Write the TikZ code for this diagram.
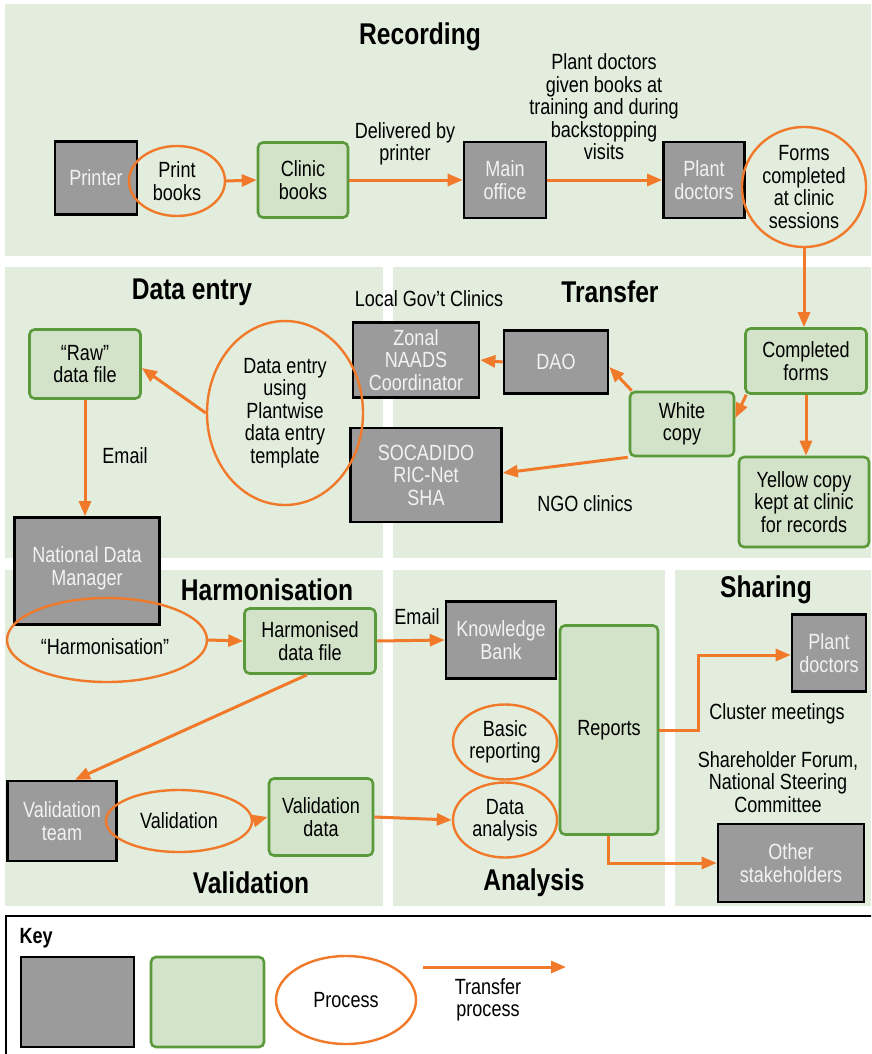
\documentclass[tikz,border=0pt]{standalone}
\usepackage{fontspec}
\setmainfont[FakeStretch=0.82]{Liberation Sans}
\usetikzlibrary{arrows.meta,shapes.geometric}
\definecolor{panelbg}{HTML}{E3EDDE}
\definecolor{boxgray}{HTML}{9B9B9B}
\definecolor{greenline}{HTML}{5A9A3A}
\definecolor{greenfill}{HTML}{D3E3CA}
\definecolor{orng}{HTML}{F07A2A}
\definecolor{boxtext}{HTML}{F2F2F2}
\tikzset{
  every node/.style={font=\fontsize{22}{22.5}\selectfont},
  panel/.style={fill=panelbg, draw=none},
  graybox/.style={rectangle, draw=black, line width=2.6pt, fill=boxgray, text=boxtext,
    align=center, inner sep=1pt},
  greenbox/.style={rectangle, draw=greenline, line width=2.6pt, fill=greenfill,
    rounded corners=5pt, align=center, inner sep=1pt},
  proc/.style={ellipse, draw=orng, line width=2.4pt, align=center, inner sep=0pt},
  flow/.style={draw=orng, line width=3pt, -{Triangle[length=15pt,width=12pt]}},
  title/.style={font=\fontsize{30}{32}\selectfont\bfseries},
  lbl/.style={align=center},
  sz/.style 2 args={minimum width=#1pt, minimum height=#2pt}
}
\begin{document}
\begin{tikzpicture}[x=1pt,y=-1pt]
\useasboundingbox (0,0) rectangle (871,1054);
\clip (0,0) rectangle (871,1054);

% background panels
\fill[panel] (5,4) rectangle (871,256);
\fill[panel] (5,267) rectangle (383,558);
\fill[panel] (393,267) rectangle (871,558);
\fill[panel] (5,570) rectangle (383,906);
\fill[panel] (393,570) rectangle (665,906);
\fill[panel] (675,570) rectangle (871,906);

% section titles
\node[title] (tRec) at (420,37) {Recording};
\node[title] (tEntry) at (192,292) {Data entry};
\node[title] (tTrans) at (610,292) {Transfer};
\node[title] (tHarm) at (267,590) {Harmonisation};
\node[title] (tShare) at (766,590) {Sharing};
\node[title] (tVal) at (251,883) {Validation};
\node[title] (tAna) at (534,883) {Analysis};

% Recording
\node[graybox, sz={82}{73}] (printer) at (96,178) {Printer};
\node[greenbox, sz={90}{75}] (clinic) at (303,180) {Clinic\\books};
\node[graybox, sz={82}{76}] (mainoff) at (505,180) {Main\\office};
\node[graybox, sz={81}{76}] (plantdoc) at (704,180) {Plant\\doctors};
\node[proc, sz={96}{70}] (printbooks) at (177,181) {Print\\books};
\node[proc, sz={124}{120}] (forms) at (804,187) {Forms\\completed\\at clinic\\sessions};

% Transfer
\node[greenbox, sz={121}{65}] (completed) at (806,361) {Completed\\forms};
\node[greenbox, sz={130}{90}] (yellow) at (804,502) {Yellow copy\\kept at clinic\\for records};
\node[greenbox, sz={104}{64}] (white) at (682,424) {White\\copy};
\node[graybox, sz={104}{63}] (dao) at (556,362) {DAO};
\node[graybox, sz={126}{75}] (zonal) at (416,360) {Zonal\\NAADS\\Coordinator};
\node[graybox, sz={151}{94}] (socadido) at (426,475) {SOCADIDO\\RIC-Net\\SHA};

% Data entry
\node[greenbox, sz={111}{69}] (raw) at (85,364) {“Raw”\\data file};
\node[graybox, sz={145}{107}, text depth=10pt] (ndm) at (87,571) {National Data\\Manager};
\node[proc, sz={156}{184}] (entry) at (285,413) {Data entry\\using\\Plantwise\\data entry\\template};

% Harmonisation and validation
\node[greenbox, sz={131}{65}] (hdf) at (310,641) {Harmonised\\data file};
\node[proc, sz={200}{84}] (harm) at (107,640) {};
\node (harmtxt) at (105,647) {“Harmonisation”};
\node[graybox, sz={109}{80}] (vteam) at (62,821) {Validation\\team};
\node[greenbox, sz={104}{77}] (vdata) at (321,817) {Validation\\data};
\node[proc, sz={146}{62}] (val) at (179,821) {Validation};

% Analysis
\node[graybox, sz={110}{77}] (kb) at (501,640) {Knowledge\\Bank};
\node[proc, sz={104}{75}] (basic) at (505,742) {Basic\\reporting};
\node[proc, sz={104}{75}] (danalysis) at (505,820) {Data\\analysis};
\node[greenbox, sz={98}{209}] (reports) at (609,730) {Reports};

% Sharing
\node[graybox, sz={74}{77}] (pd2) at (829,653) {Plant\\doctors};
\node[graybox, sz={146}{78}] (other) at (791,863) {Other\\stakeholders};

% transfer arrows
\draw[flow] (printbooks.east) -- (clinic.west);
\draw[flow] (clinic.east) -- (mainoff.west);
\draw[flow] (mainoff.east) -- (plantdoc.west);
\draw[flow] (forms.south) -- (forms.south |- completed.north);
\draw[flow] (completed.south) -- (completed.south |- yellow.north);
\draw[flow] ([xshift=2pt]completed.south west) -- ([yshift=6pt]white.east);
\draw[flow] ([xshift=3pt]white.north west) -- ([yshift=-5pt]dao.east);
\draw[flow] (dao.west) -- (zonal.east);
\draw[flow] ([xshift=-1pt]white.south west) -- ([yshift=2pt]socadido.east);
\draw[flow] (entry.west) -- ([yshift=-4pt]raw.east);
\draw[flow] (raw.south) -- (raw.south |- ndm.north);
\draw[flow] (harm.east) -- (hdf.west);
\draw[flow] (hdf.east) -- (kb.west);
\draw[flow] ([xshift=-3pt]hdf.south) -- ([xshift=13pt]vteam.north);
\draw[flow] (val.east) -- (vdata.west);
\draw[flow] (vdata.east) -- (danalysis.west);
\draw[flow] (reports.east) -- ++(39,0) |- ([yshift=-2pt]pd2.west);
\draw[flow] ([xshift=-1pt]reports.south) |- (other.west);

% connector labels
\node[lbl] (lDeliv) at (405,144) {Delivered by\\printer};
\node[lbl] (lGiven) at (604,107) {Plant doctors\\given books at\\training and during\\backstopping\\visits};
\node[lbl] (lLocal) at (429,299) {Local Gov’t Clinics};
\node[lbl] (lNGO) at (585,504) {NGO clinics};
\node[lbl] (lEmail1) at (125,456) {Email};
\node[lbl] (lEmail2) at (417,617) {Email};
\node[lbl] (lCluster) at (777,714) {Cluster meetings};
\node[lbl] (lForum) at (778,782) {Shareholder Forum,\\National Steering\\Committee};

% key
\draw[line width=1.5pt] (6,916) rectangle (890,1070);
\node[font=\fontsize{22}{22}\selectfont\bfseries, anchor=west] (keyt) at (16,938) {Key};
\node[graybox, sz={113}{90}] (kgray) at (77.5,1002) {};
\node[greenbox, sz={113}{90}] (kgreen) at (207.5,1002) {};
\node[proc, sz={140}{88}] (kproc) at (346,1000) {Process};
\coordinate (kA) at (423,967);
\coordinate (kB) at (566,967);
\draw[flow] (kA) -- (kB);
\node[lbl] (ktrans) at (488,1000) {Transfer\\process};
\end{tikzpicture}
\end{document}
